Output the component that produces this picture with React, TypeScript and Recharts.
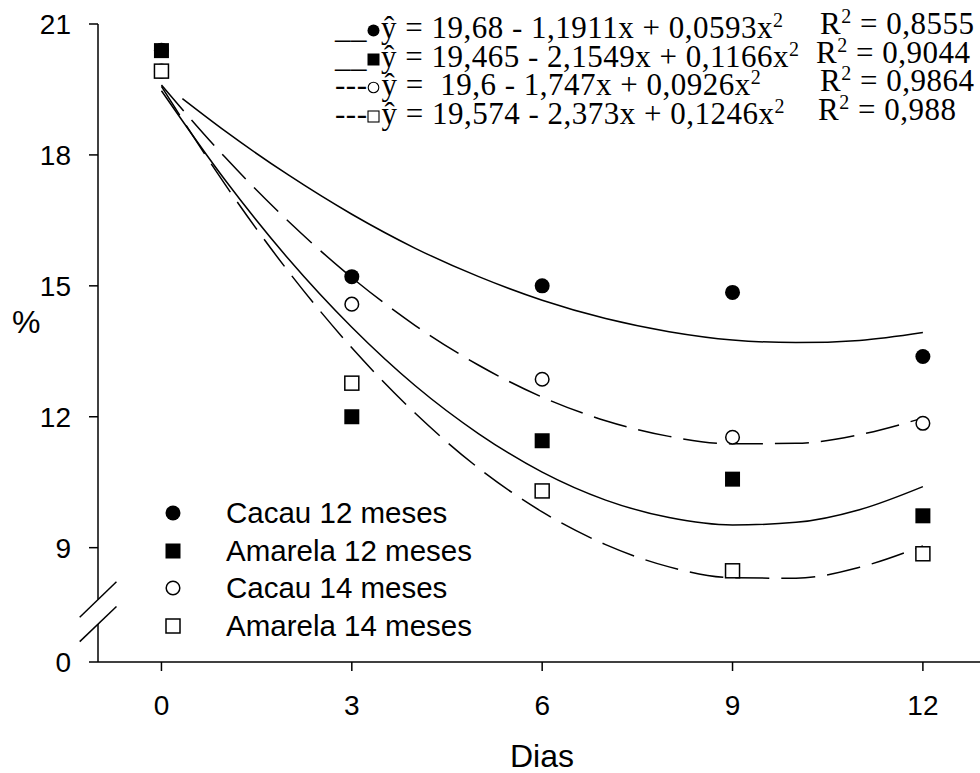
import React from "react";
import { ComposedChart, Line, Scatter, XAxis, YAxis, ReferenceLine } from "recharts";

// observed values (% per day)
const dias = [0, 3, 6, 9, 12];
const cacau12 = [20.4, 15.21, 15.0, 14.85, 13.38];
const amarela12 = [20.39, 12.0, 11.45, 10.57, 9.73];
const cacau14 = [19.92, 14.58, 12.86, 11.53, 11.85];
const amarela14 = [19.92, 12.77, 10.3, 8.47, 8.86];

// fitted curves
const fitX = [0, 1, 2, 3, 4, 5, 6, 7, 8, 9, 10, 11, 12];
const fitXCacau12 = [0.33, 1, 2, 3, 4, 5, 6, 7, 8, 9, 10, 11, 12];
const fitCacau12 = [19.29, 18.55, 17.54, 16.64, 15.86, 15.21, 14.67, 14.25, 13.95, 13.76, 13.7, 13.75, 13.93];
const fitAmarela12 = [19.47, 17.43, 15.62, 14.05, 12.71, 11.61, 10.73, 10.09, 9.69, 9.52, 9.58, 9.87, 10.4];
const fitCacau14 = [19.6, 17.95, 16.48, 15.19, 14.09, 13.18, 12.45, 11.91, 11.55, 11.38, 11.39, 11.59, 11.97];
const fitAmarela14 = [19.57, 17.33, 15.33, 13.58, 12.08, 10.82, 9.82, 9.07, 8.56, 8.31, 8.3, 8.55, 9.04];

const seriesNames = ["Cacau 12 meses", "Amarela 12 meses", "Cacau 14 meses", "Amarela 14 meses"];
const equations = [
  "ŷ = 19,68 - 1,1911x + 0,0593x",
  "ŷ = 19,465 - 2,1549x + 0,1166x",
  "ŷ =  19,6 - 1,747x + 0,0926x",
  "ŷ = 19,574 - 2,373x + 0,1246x",
];
const eqLine = ["__", "__", "---", "---"];
const r2Values = ["0,8555", "0,9044", "0,9864", "0,988"];
const r2Left = [485, 481, 485, 483];

// broken axis: the "0" tick sits just below the break
const Y_ZERO = 6.38;
const yTicks = [Y_ZERO, 9, 12, 15, 18, 21];
const yTickLabels = ["0", "9", "12", "15", "18", "21"];
const xTicks = [0, 3, 6, 9, 12];

const toPoints = (xs: number[], ys: number[]) => xs.map((x, i) => ({ x, y: ys[i] }));

const SANS = "'Liberation Sans', Arial, sans-serif";
const SERIF = "'Liberation Serif', 'Times New Roman', serif";

const filledCircle = (p: any) => <circle cx={p.cx} cy={p.cy} r={7.5} fill="#000" />;
const filledSquare = (p: any) => <rect x={p.cx - 7.5} y={p.cy - 7.5} width={15} height={15} fill="#000" />;
const hollowCircle = (p: any) => (
  <circle cx={p.cx} cy={p.cy} r={6.8} fill="#fff" stroke="#000" strokeWidth={1.5} />
);
const hollowSquare = (p: any) => (
  <rect x={p.cx - 7} y={p.cy - 7} width={14} height={14} fill="#fff" stroke="#000" strokeWidth={1.5} />
);

const legendIcons = [
  <circle cx={8} cy={8} r={7.5} fill="#000" />,
  <rect x={0.5} y={0.5} width={15} height={15} fill="#000" />,
  <circle cx={8} cy={8} r={6.8} fill="#fff" stroke="#000" strokeWidth={1.5} />,
  <rect x={1} y={1} width={14} height={14} fill="#fff" stroke="#000" strokeWidth={1.5} />,
];

const eqIcons = [
  <circle cx={6.5} cy={6.5} r={6} fill="#000" />,
  <rect x={0.5} y={0.5} width={12} height={12} fill="#000" />,
  <circle cx={6.5} cy={6.5} r={5.3} fill="none" stroke="#000" strokeWidth={1.1} />,
  <rect x={1} y={1} width={11} height={11} fill="none" stroke="#000" strokeWidth={1.1} />,
];

const axisStroke = { stroke: "#000", strokeWidth: 1.5 };
const tickStyle = { fill: "#000", fontSize: 28, fontFamily: SANS };
const supStyle = { fontSize: 20, verticalAlign: "11px", lineHeight: 0 };
const eqSpan = { display: "inline-block", height: 28, lineHeight: "28px", overflow: "visible" as const };

export default function App() {
  return (
    <div style={{ position: "absolute", left: 0, top: 0, width: 980, height: 773, background: "#fff" }}>
      <ComposedChart width={980} height={773} margin={{ top: 24, right: 0, bottom: 0, left: 0 }}>
        <XAxis
          type="number"
          dataKey="x"
          domain={[-1, 12.9]}
          ticks={xTicks}
          interval={0}
          height={111}
          tickSize={9}
          tickMargin={24}
          axisLine={axisStroke}
          tickLine={axisStroke}
          tick={tickStyle}
          label={{
            content: (p: any) => (
              <text
                x={p.viewBox.x + p.viewBox.width / 2 + 3}
                y={p.viewBox.y + p.viewBox.height - 6}
                textAnchor="middle"
                fontSize={32}
                fontFamily={SANS}
                fill="#000"
              >
                Dias
              </text>
            ),
          }}
        />
        <YAxis
          type="number"
          dataKey="y"
          domain={[Y_ZERO, 21]}
          ticks={yTicks}
          interval={0}
          width={98}
          tickSize={9}
          tickMargin={18}
          axisLine={false}
          tickLine={axisStroke}
          tick={tickStyle}
          tickFormatter={(v: number) => yTickLabels[yTicks.indexOf(v)]}
          label={{
            content: (p: any) => (
              <text
                x={p.viewBox.x + 12}
                y={p.viewBox.y + 298}
                dominantBaseline="central"
                fontSize={32}
                fontFamily={SANS}
                fill="#000"
              >
                %
              </text>
            ),
          }}
        />

        {/* y axis line with the break */}
        <ReferenceLine segment={[{ x: -1, y: 21 }, { x: -1, y: 7.81 }]} ifOverflow="visible" {...axisStroke} />
        <ReferenceLine segment={[{ x: -1, y: 7.25 }, { x: -1, y: Y_ZERO }]} ifOverflow="visible" {...axisStroke} />
        <ReferenceLine segment={[{ x: -1.288, y: 7.405 }, { x: -0.709, y: 8.22 }]} ifOverflow="visible" {...axisStroke} />
        <ReferenceLine segment={[{ x: -1.288, y: 6.846 }, { x: -0.709, y: 7.65 }]} ifOverflow="visible" {...axisStroke} />

        <Scatter data={toPoints(dias, cacau12)} dataKey="y" shape={filledCircle} isAnimationActive={false} />
        <Scatter data={toPoints(dias, cacau14)} dataKey="y" shape={hollowCircle} isAnimationActive={false} />
        <Scatter data={toPoints(dias, amarela12)} dataKey="y" shape={filledSquare} isAnimationActive={false} />
        <Scatter data={toPoints(dias, amarela14)} dataKey="y" shape={hollowSquare} isAnimationActive={false} />

        <Line data={toPoints(fitXCacau12, fitCacau12)} dataKey="y" type="monotone" stroke="#000" strokeWidth={1.5} dot={false} isAnimationActive={false} />
        <Line data={toPoints(fitX, fitAmarela12)} dataKey="y" type="monotone" stroke="#000" strokeWidth={1.5} dot={false} isAnimationActive={false} />
        <Line data={toPoints(fitX, fitCacau14)} dataKey="y" type="monotone" stroke="#000" strokeWidth={1.5} strokeDasharray="34 12" dot={false} isAnimationActive={false} />
        <Line data={toPoints(fitX, fitAmarela14)} dataKey="y" type="monotone" stroke="#000" strokeWidth={1.5} strokeDasharray="34 12" dot={false} isAnimationActive={false} />
      </ComposedChart>

      {/* regression equations */}
      <div style={{ position: "absolute", left: 335, top: 10, fontFamily: SERIF, fontSize: 31, letterSpacing: 0.5, color: "#000" }}>
        {equations.map((eq, i) => (
          <div key={i} style={{ position: "relative", height: 28.5, whiteSpace: "pre" }}>
            <span style={eqSpan}>
              {eqLine[i]}
              <svg width={13} height={13} style={{ verticalAlign: "1px", marginRight: 1 }}>
                {eqIcons[i]}
              </svg>
              {eq}
              <sup style={supStyle}>2</sup>
            </span>
            <span style={{ ...eqSpan, position: "absolute", left: r2Left[i], top: 0 }}>
              R<sup style={supStyle}>2</sup> = {r2Values[i]}
            </span>
          </div>
        ))}
      </div>

      {/* marker legend */}
      <div style={{ position: "absolute", left: 165, top: 494, fontFamily: SANS, fontSize: 29.5, color: "#000" }}>
        {seriesNames.map((name, i) => (
          <div key={name} style={{ display: "flex", alignItems: "center", height: 37.7 }}>
            <svg width={16} height={16} style={{ marginRight: 45 }}>
              {legendIcons[i]}
            </svg>
            <span>{name}</span>
          </div>
        ))}
      </div>
    </div>
  );
}
